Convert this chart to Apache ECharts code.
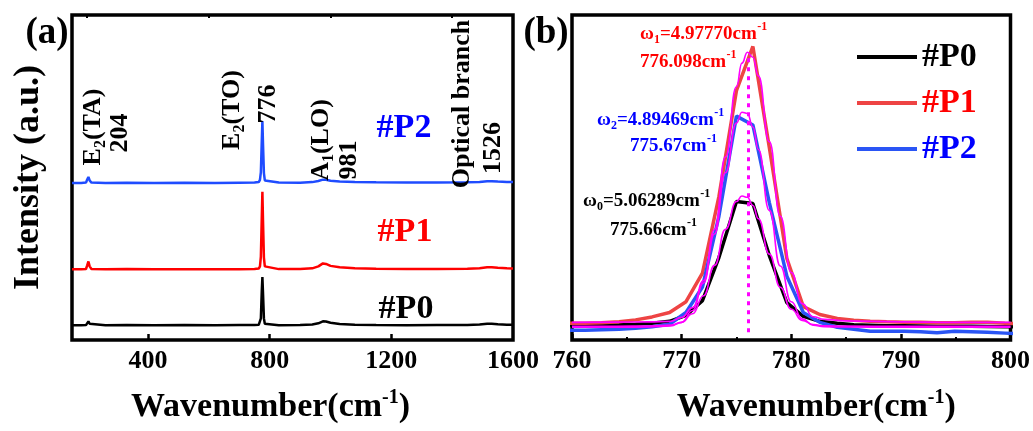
<!DOCTYPE html>
<html><head><meta charset="utf-8">
<script src="https://cdn.jsdelivr.net/npm/echarts@6/dist/echarts.min.js"></script>
<style>html,body{margin:0;padding:0;background:#fff}#c{width:1033px;height:431px}</style>
</head><body><div id="c"></div>
<script>
const FONT = "'Liberation Serif','Times New Roman',serif";

// ---------- Panel (a): full Raman spectra (stacked, a.u.) ----------
const aWave = [150, 180, 196, 200, 204, 208, 214, 260, 330, 420, 520, 620, 700, 750, 764, 768, 771, 774, 776, 778, 781, 784, 790, 830, 900, 940, 960, 975, 985, 1000, 1030, 1080, 1150, 1250, 1350, 1450, 1490, 1515, 1530, 1550, 1580, 1600];
const aP0 = [15, 15, 15.2, 17, 19, 16.5, 15.2, 15, 15.3, 15, 15.2, 15, 15.2, 15.3, 15.5, 16.5, 22, 50, 64, 48, 22, 16.5, 15.5, 15, 15.2, 15.8, 17, 19, 18.8, 17.5, 16.3, 15.6, 15.3, 15, 15.2, 15.3, 15.8, 16.5, 16.5, 16, 15.6, 15.5];
const aP1 = [72, 72, 72.3, 76, 80, 75, 72.3, 72, 72.2, 72, 72, 72.1, 72, 72.3, 72.8, 75, 85, 125, 151, 122, 84, 75, 73, 72.2, 72.3, 73, 75, 78, 77.5, 75.5, 74, 73, 72.5, 72.2, 72.3, 72.5, 73, 74, 74, 73.5, 73, 72.8];
const aP2 = [160, 160, 160.3, 163.5, 166, 162.5, 160.3, 160, 160.2, 160, 160.1, 160, 160.2, 160.3, 160.8, 163, 171, 203, 223, 200, 170, 162.5, 161, 160.3, 160.2, 160.8, 162, 163.3, 163.2, 162.2, 161.5, 161, 160.6, 160.3, 160.4, 160.6, 161, 161.8, 161.8, 161.4, 161, 160.8];
const aMajorTicks = [400, 800, 1200];
const aLabelTicks = [400, 800, 1200, 1600];
const aMinorTicks = [200, 600, 1000, 1400];

// ---------- Panel (b): E2(TO) peak zoom ----------
const bWave = [759.7, 761.2, 762.7, 764.3, 765.8, 767.3, 768.9, 770.4, 771.9, 773.4, 775.0, 776.5, 778.0, 779.6, 781.1, 782.6, 784.2, 785.7, 787.2, 788.7, 790.3, 791.8, 793.3, 794.9, 796.4, 797.9, 799.5, 801.0];
const bP0 = [15.3, 15.3, 15.3, 15.5, 16, 17, 19, 25, 40, 84, 141, 139, 86, 38, 24, 19, 17, 15.5, 15, 14.5, 14.5, 14.3, 14, 14, 14, 13.8, 13.5, 13.3];
const bP1 = [17, 17, 17.5, 18.5, 20.5, 23.5, 28, 39, 68, 146, 254, 299, 196, 83, 34, 26, 22, 20, 19, 18.5, 18, 18, 17.5, 17.5, 18, 18, 17, 16.5];
const bP2 = [10, 10, 10.5, 11, 12, 13.5, 16, 28, 54, 126, 228, 219, 140, 65, 28, 18, 13, 11, 9, 9, 9, 8.5, 7.5, 9, 8.5, 8, 7, 6];
const fitWave = [760, 764, 767, 769, 770, 771, 772, 773, 774, 775, 775.5, 776, 776.5, 777, 778, 779, 780, 781, 782, 783, 785, 790, 795, 800];
const fitP0 = [14, 14, 14.2, 15.1, 18, 26.7, 45, 76, 112.7, 141, 146.6, 145.4, 137, 123.5, 87.5, 53.8, 31.3, 20, 15.7, 14.4, 14.1, 14, 14, 14];
const fitP1 = [18, 18.2, 18.5, 19, 23, 33, 60.5, 112.6, 186.5, 258, 282, 293, 288, 269, 202, 126, 68.8, 37, 23.7, 21, 19.5, 18.5, 18, 18];
const fitP2 = [13, 13, 13.2, 14.2, 18, 30, 58, 108, 170.5, 221, 232, 230.7, 217, 194, 132, 75.4, 38.9, 21.5, 15.2, 13.6, 13.2, 13, 13, 13];
const peakLineX = [776.1, 776.1];
const peakLineY = [8, 291];

const zip = (xs, ys) => xs.map((x, i) => [x, ys[i]]);

const measureCtx = document.createElement('canvas').getContext('2d');
function textW(s, size) {
  measureCtx.font = 'bold ' + size + 'px ' + FONT;
  return measureCtx.measureText(s).width;
}

const titleStyle = (pad) => ({
  fontSize: 34, fontWeight: 'bold', fontFamily: FONT, color: '#000', lineHeight: 38, padding: pad,
  rich: { sup: { fontSize: 20, fontWeight: 'bold', fontFamily: FONT, color: '#000', lineHeight: 18, verticalAlign: 'top' } }
});
const tickLabel = { fontSize: 26, fontWeight: 'bold', fontFamily: FONT, color: '#000', margin: 8, formatter: (v) => String(v) };

function txt(s, x, y, color, size, align) {
  return {
    type: 'text', x: x, y: y, z: 50,
    style: { text: s, fill: color, fontSize: size, fontWeight: 700, fontFamily: FONT, align: align || 'center', verticalAlign: 'middle' }
  };
}
// vertical (bottom-to-top) label, optional subscript after the first letter
function rotLabel(main, sub, rest, cx, cy) {
  const MS = 26, SS = 16;
  const w1 = textW(main, MS), w2 = sub ? textW(sub, SS) : 0, w3 = rest ? textW(rest, MS) : 0;
  const x0 = -(w1 + w2 + w3) / 2;
  const children = [txt(main, x0, 0, '#000', MS, 'left')];
  if (sub) children.push(txt(sub, x0 + w1, 8, '#000', SS, 'left'));
  if (rest) children.push(txt(rest, x0 + w1 + w2, 0, '#000', MS, 'left'));
  return { type: 'group', x: cx, y: cy, rotation: Math.PI / 2, children: children };
}
// horizontal note: prefix, subscript, middle, superscript
function note(pre, sub, mid, sup, left, cy, color) {
  const MS = 19, SS = 12;
  let x = left;
  const ch = [];
  ch.push(txt(pre, x, cy, color, MS, 'left')); x += textW(pre, MS);
  if (sub) { ch.push(txt(sub, x, cy + 6, color, SS, 'left')); x += textW(sub, SS); }
  if (mid) { ch.push(txt(mid, x, cy, color, MS, 'left')); x += textW(mid, MS); }
  if (sup) { ch.push(txt(sup, x + 0.5, cy - 7, color, SS, 'left')); }
  return { type: 'group', children: ch };
}

const hiddenY = (gi, name) => ({
  gridIndex: gi, type: 'value', min: 0, max: 331,
  axisLine: { show: false }, axisTick: { show: false }, axisLabel: { show: false }, splitLine: { show: false },
  name: name || '', nameLocation: 'middle', nameGap: 25, nameRotate: 90,
  nameTextStyle: { fontSize: 36, fontWeight: 'bold', fontFamily: FONT, color: '#000' }
});

const option = {
  animation: false,
  backgroundColor: '#fff',
  grid: [
    { left: 72, top: 15, width: 441, height: 331, show: true, borderWidth: 3.5, borderColor: '#000', backgroundColor: 'transparent', containLabel: false },
    { left: 572, top: 15, width: 441, height: 331, show: true, borderWidth: 3.5, borderColor: '#000', backgroundColor: 'transparent', containLabel: false }
  ],
  legend: {
    data: [
      { name: '#P0', textStyle: { color: '#000000' } },
      { name: '#P1', textStyle: { color: '#ff0000' } },
      { name: '#P2', textStyle: { color: '#0000ff' } }
    ],
    orient: 'vertical', left: 852, top: 34, itemWidth: 60, itemHeight: 4, icon: 'rect', itemGap: 10,
    textStyle: { fontSize: 34, fontWeight: 'bold', fontFamily: FONT, lineHeight: 36 },
    selectedMode: false
  },
  xAxis: [
    {
      gridIndex: 0, type: 'value', min: 150, max: 1600,
      axisLine: { show: false }, splitLine: { show: false },
      axisTick: { show: true, inside: true, length: 6, customValues: aMajorTicks, lineStyle: { color: '#000', width: 2.5 } },
      axisLabel: Object.assign({ customValues: aLabelTicks }, tickLabel),
      name: 'Wavenumber(cm{sup|-1})', nameLocation: 'middle', nameGap: 48, nameTextStyle: titleStyle([0, 44, 0, 0])
    },
    {
      gridIndex: 0, type: 'value', min: 150, max: 1600,
      axisLine: { show: false }, splitLine: { show: false }, axisLabel: { show: false },
      axisTick: { show: true, inside: true, length: 3, customValues: aMinorTicks, lineStyle: { color: '#000', width: 2 } }
    },
    {
      gridIndex: 1, type: 'value', min: 760, max: 800, interval: 10,
      axisLine: { show: false }, splitLine: { show: false },
      axisTick: { show: true, inside: true, length: 6, lineStyle: { color: '#000', width: 2.5 } },
      minorTick: { show: true, splitNumber: 2, length: 3, lineStyle: { color: '#000', width: 2 } },
      minorSplitLine: { show: false },
      axisLabel: Object.assign({ showMinLabel: true, showMaxLabel: true }, tickLabel),
      name: 'Wavenumber(cm{sup|-1})', nameLocation: 'middle', nameGap: 48, nameTextStyle: titleStyle([0, 0, 0, 50])
    }
  ],
  yAxis: [hiddenY(0, 'Intensity (a.u.)'), hiddenY(1)],
  series: [
    { name: 'a-P0', type: 'line', xAxisIndex: 0, yAxisIndex: 0, data: zip(aWave, aP0), showSymbol: false, lineStyle: { color: '#000', width: 2.5 }, itemStyle: { color: '#000' } },
    { name: 'a-P1', type: 'line', xAxisIndex: 0, yAxisIndex: 0, data: zip(aWave, aP1), showSymbol: false, lineStyle: { color: '#ff0000', width: 2.5 }, itemStyle: { color: '#ff0000' } },
    { name: 'a-P2', type: 'line', xAxisIndex: 0, yAxisIndex: 0, data: zip(aWave, aP2), showSymbol: false, lineStyle: { color: '#1f4cff', width: 2.5 }, itemStyle: { color: '#1f4cff' } },

    { name: '#P0', type: 'line', xAxisIndex: 2, yAxisIndex: 1, data: zip(bWave, bP0), showSymbol: false, lineStyle: { color: '#000', width: 3.5 }, itemStyle: { color: '#000' } },
    { name: '#P1', type: 'line', xAxisIndex: 2, yAxisIndex: 1, data: zip(bWave, bP1), showSymbol: false, lineStyle: { color: '#ee4444', width: 3.5 }, itemStyle: { color: '#ee4444' } },
    { name: '#P2', type: 'line', xAxisIndex: 2, yAxisIndex: 1, data: zip(bWave, bP2), showSymbol: false, lineStyle: { color: '#2a55f5', width: 3.5 }, itemStyle: { color: '#2a55f5' } },

    { name: 'fit-P0', type: 'line', xAxisIndex: 2, yAxisIndex: 1, data: zip(fitWave, fitP0), smooth: true, smoothMonotone: 'x', showSymbol: false, lineStyle: { color: '#ff00ff', width: 1.6 } },
    { name: 'fit-P1', type: 'line', xAxisIndex: 2, yAxisIndex: 1, data: zip(fitWave, fitP1), smooth: true, smoothMonotone: 'x', showSymbol: false, lineStyle: { color: '#ff00ff', width: 1.6 } },
    { name: 'fit-P2', type: 'line', xAxisIndex: 2, yAxisIndex: 1, data: zip(fitWave, fitP2), smooth: true, smoothMonotone: 'x', showSymbol: false, lineStyle: { color: '#ff00ff', width: 1.6 } },
    { name: 'peak', type: 'line', xAxisIndex: 2, yAxisIndex: 1, data: zip(peakLineX, peakLineY), showSymbol: false, lineStyle: { color: '#ff00ff', width: 3, type: [4, 5] }, z: 5 }
  ],
  graphic: [
    txt('(a)', 47, 33, '#000', 37),
    txt('(b)', 546, 33, '#000', 37),
    rotLabel('E', '2', '(TA)', 93, 127),
    rotLabel('204', '', '', 120, 133),
    rotLabel('E', '2', '(TO)', 232, 110),
    rotLabel('776', '', '', 268, 104),
    rotLabel('A', '1', '(LO)', 321, 140),
    rotLabel('981', '', '', 349, 160),
    rotLabel('Optical branch', '', '', 462, 104),
    rotLabel('1526', '', '', 493, 148),
    txt('#P2', 404, 128, '#0000ff', 34),
    txt('#P1', 405, 232, '#ff0000', 34),
    txt('#P0', 406, 309, '#000000', 34),
    note('ω', '1', '=4.97770cm', '-1', 640, 34, '#ff0000'),
    note('776.098cm', '', '', '-1', 640, 62, '#ff0000'),
    note('ω', '2', '=4.89469cm', '-1', 597, 120, '#0000ff'),
    note('775.67cm', '', '', '-1', 630, 146, '#0000ff'),
    note('ω', '0', '=5.06289cm', '-1', 583, 201, '#000000'),
    note('775.66cm', '', '', '-1', 610, 230, '#000000')
  ]
};
const chart = echarts.init(document.getElementById('c'), null, { renderer: 'canvas' });
chart.setOption(option);
</script></body></html>
